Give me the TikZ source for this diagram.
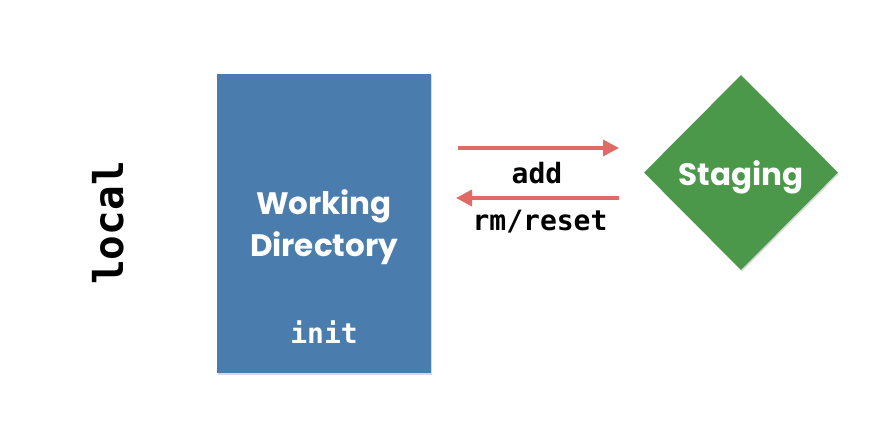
\documentclass[tikz,border=0pt]{standalone}
\usepackage{fontspec}
\setmainfont{Poppins}
\newfontfamily\codefont{DejaVu Sans Mono}
\usetikzlibrary{shapes.geometric,arrows.meta,shadows}
\definecolor{wdblue}{HTML}{4A7DAD}
\definecolor{stgreen}{HTML}{4C984A}
\definecolor{arrred}{HTML}{E06A66}
\tikzset{
  px/.style={x=1pt,y=-1pt},
  boxshadow/.style={drop shadow={shadow xshift=1pt,shadow yshift=-1.5pt,opacity=0.25,fill=black!60}},
  wdbox/.style={rectangle,fill=wdblue,minimum width=214pt,minimum height=299pt,inner sep=0pt,boxshadow},
  stdiamond/.style={diamond,fill=stgreen,minimum width=194pt,minimum height=195pt,inner sep=0pt,boxshadow},
  bigtext/.style={text=white,font=\fontsize{31}{42}\selectfont\bfseries,align=center},
  codetext/.style={font=\codefont\bfseries\fontsize{28}{30}\selectfont},
  sidetext/.style={font=\codefont\bfseries\fontsize{41}{44}\selectfont},
  flow/.style={draw=arrred,line width=3.5pt,-{Triangle[length=16pt,width=16pt]}},
}
\begin{document}
\begin{tikzpicture}[px]
\useasboundingbox (0,0) rectangle (882,422);
\node[wdbox] (wd) at (324,223.5) {};
\node[bigtext] (wdt) at (324,227) {Working\\Directory};
\node[codetext,text=white] (init) at (324,332) {init};
\node[stdiamond] (st) at (741,172.5) {};
\node[bigtext] (stt) at (741,177) {Staging};
\node[sidetext,rotate=90] (local) at (108,223) {local};
\coordinate (a1s) at (458,148);
\coordinate (a1e) at (619,148);
\coordinate (a2s) at (619,198);
\coordinate (a2e) at (456,198);
\draw[flow] (a1s) -- (a1e);
\draw[flow] (a2s) -- (a2e);
\node[codetext] (add) at (537,173) {add};
\node[codetext] (rm) at (540,222) {rm/reset};
\end{tikzpicture}
\end{document}
